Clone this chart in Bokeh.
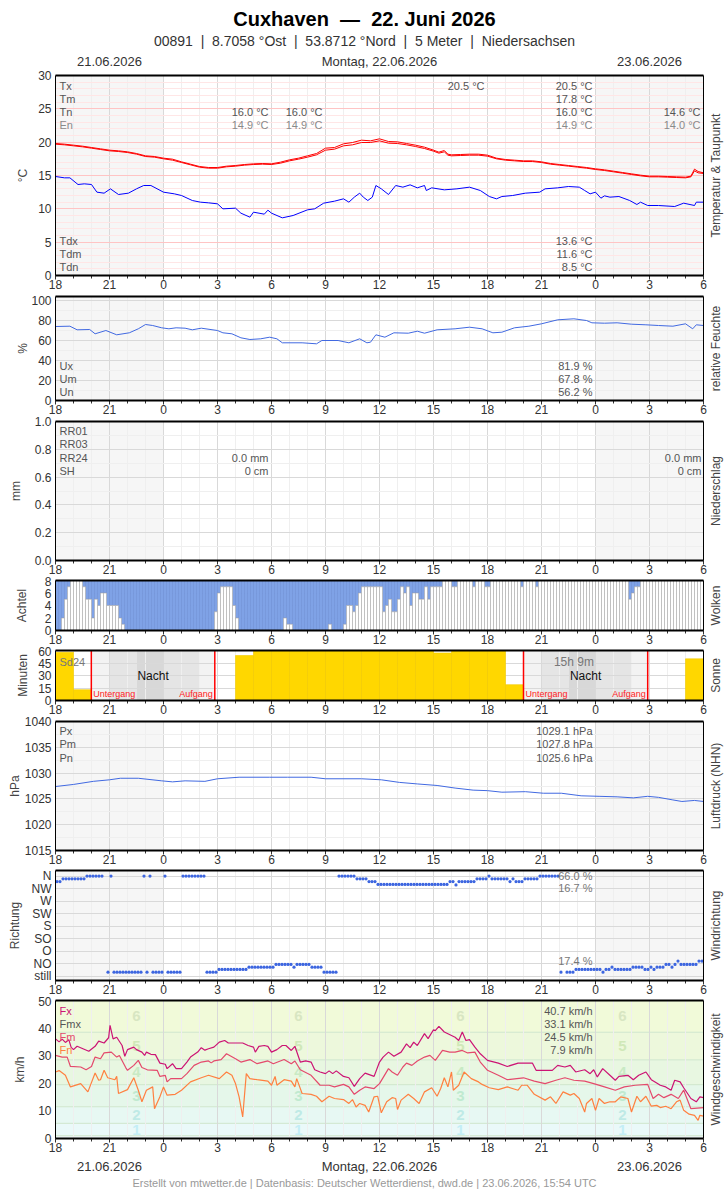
import numpy as np
from bokeh.plotting import figure
from bokeh.layouts import column
from bokeh.models import FixedTicker, Range1d, PrintfTickFormatter
from bokeh.embed import file_html
from bokeh.resources import INLINE
from bokeh.core.properties import value

# ------------------------------------------------------------------ DATA
# x axis: hours since 21.06.2026 18:00 UTC (0 .. 36)
hour_ticks = list(range(0, 37, 3))
hour_labels = ["18", "21", "0", "3", "6", "9", "12", "15", "18", "21", "0", "3", "6"]

NB2 = "\u00a0\u00a0"
title_text = "Cuxhaven" + NB2 + "\u2014" + NB2 + "22. Juni 2026"
subtitle_text = NB2.join(["00891", "|", "8.7058 \u00b0Ost", "|", "53.8712 \u00b0Nord", "|",
                          "5 Meter", "|", "Niedersachsen"])
date_labels = ["21.06.2026", "Montag, 22.06.2026", "23.06.2026"]
footer_text = "Erstellt von mtwetter.de | Datenbasis: Deutscher Wetterdienst, dwd.de | 23.06.2026, 15:54 UTC"

# temperature (two red traces)
temp_hours = [0, 0.5, 1, 1.5, 2, 2.5, 3, 3.5, 4, 4.5, 5, 5.5, 6, 6.5, 7, 7.5, 8, 8.5, 9, 9.5,
              10, 10.5, 11, 11.5, 12, 12.5, 13, 13.5, 14, 14.5, 15, 15.5, 16, 16.5, 17, 17.5,
              18, 18.5, 19, 19.5, 20, 20.5, 21, 21.3, 21.6, 21.8, 22, 22.5, 23, 23.5, 24, 24.5,
              25, 25.5, 26, 26.5, 27, 27.5, 28, 28.5, 29, 29.5, 30, 30.5, 31, 31.5, 32, 32.5,
              33, 33.5, 34, 34.5, 35, 35.3, 35.5, 35.7, 36]
temp_hi = [19.8, 19.7, 19.55, 19.4, 19.2, 19.0, 18.8, 18.7, 18.55, 18.3, 17.95, 17.85, 17.6, 17.45,
           17.05, 16.7, 16.35, 16.2, 16.2, 16.4, 16.5, 16.65, 16.75, 16.8, 16.75, 17.0, 17.35, 17.6,
           17.95, 18.3, 19.1, 19.2, 19.75, 19.95, 20.3, 20.2, 20.5, 20.1, 20.05, 19.8, 19.55, 19.25,
           18.8, 18.5, 18.75, 18.2, 18.1, 18.15, 18.2, 18.2, 18.05, 17.6, 17.4, 17.3, 17.2, 17.2,
           17.05, 16.8, 16.65, 16.5, 16.35, 16.2, 16.0, 15.85, 15.65, 15.45, 15.25, 15.05, 14.9,
           14.9, 14.85, 14.8, 14.75, 14.9, 15.95, 15.6, 15.4]
temp_lo = [19.7, 19.6, 19.45, 19.3, 19.1, 18.9, 18.7, 18.6, 18.45, 18.2, 17.85, 17.75, 17.5, 17.3,
           16.95, 16.6, 16.25, 16.1, 16.1, 16.3, 16.4, 16.55, 16.65, 16.7, 16.65, 16.85, 17.2, 17.45,
           17.75, 18.1, 18.8, 18.95, 19.45, 19.6, 19.95, 19.95, 20.2, 19.85, 19.8, 19.6, 19.35, 19.05,
           18.65, 18.35, 18.55, 18.05, 17.95, 18.0, 18.05, 18.05, 17.9, 17.5, 17.3, 17.2, 17.1, 17.1,
           16.95, 16.7, 16.55, 16.4, 16.25, 16.1, 15.9, 15.75, 15.55, 15.35, 15.15, 14.95, 14.8,
           14.8, 14.75, 14.7, 14.65, 14.8, 15.7, 15.4, 15.3]

# dew point (blue)
dew_hours = [0, 0.5, 0.8, 1.25, 1.6, 2.0, 2.3, 2.7, 3.05, 3.5, 4.05, 4.5, 4.9, 5.3, 6.0, 6.6, 7.0,
             7.6, 8.05, 8.5, 9.0, 9.3, 10.0, 10.3, 10.8, 11.0, 11.6, 11.8, 12.0, 12.6, 13.2, 14.0,
             14.4, 14.9, 15.5, 16.0, 16.3, 16.6, 16.9, 17.1, 17.35, 17.6, 17.8, 18.1, 18.5, 18.9,
             19.3, 19.7, 20.1, 20.5, 20.6, 20.9, 21.6, 22.3, 23.0, 23.6, 24.1, 24.5, 24.8, 25.4,
             26.1, 26.9, 27.2, 27.9, 28.5, 29.1, 29.4, 29.7, 30.0, 30.3, 30.5, 30.8, 31.3, 31.9,
             32.3, 32.5, 32.9, 33.5, 34.4, 34.9, 35.5, 35.6, 36.0]
dew_vals = [14.85, 14.65, 14.65, 13.65, 13.75, 13.65, 12.5, 12.35, 13.0, 12.15, 12.35, 13.0, 13.5,
            13.5, 12.5, 12.25, 12.0, 11.25, 11.0, 10.9, 10.75, 10.0, 10.1, 9.35, 8.75, 9.5, 9.2,
            9.8, 9.35, 8.65, 9.0, 9.85, 10.0, 10.85, 11.15, 11.5, 11.0, 11.75, 12.35, 11.75, 11.25,
            11.75, 13.5, 13.0, 12.15, 13.5, 13.25, 13.6, 13.15, 13.5, 12.75, 13.15, 12.85, 13.0,
            13.25, 12.75, 11.85, 11.5, 11.85, 12.0, 12.35, 12.5, 13.0, 13.15, 13.35, 13.25, 12.75,
            12.25, 12.5, 11.6, 11.95, 11.75, 11.85, 11.25, 10.65, 11.0, 10.5, 10.5, 10.35, 10.85,
            10.5, 11.0, 11.0]

# relative humidity
hum_hours = [0, 0.8, 1.2, 1.9, 2.2, 2.8, 3.4, 4.1, 4.6, 5.0, 5.4, 5.9, 6.3, 6.7, 7.2, 7.6, 8.1, 9.0,
             9.3, 9.8, 10.3, 10.8, 11.4, 11.9, 12.3, 12.6, 13.7, 14.5, 14.8, 15.7, 16.3, 16.9, 17.3,
             17.5, 17.8, 18.3, 18.8, 19.6, 20.1, 20.5, 21.2, 22.2, 23.0, 23.7, 24.3, 24.8, 25.5,
             26.3, 27.0, 27.9, 28.8, 29.5, 29.8, 30.5, 31.2, 32.0, 32.8, 33.5, 34.3, 35.0, 35.4,
             35.6, 36.0]
hum_vals = [74, 74.3, 70.7, 71, 66.7, 70, 65.7, 67.7, 71.7, 76, 75, 72.7, 71.7, 72.7, 72.3, 70.7,
            72.3, 70, 67.7, 66.7, 62.7, 61, 61.7, 63.3, 61.7, 57.7, 57.7, 56.7, 60, 60, 57.7, 61.7,
            57.7, 58.3, 65.7, 63.3, 67.7, 67.3, 69.3, 67.3, 70.7, 71.7, 73.3, 71.7, 67.7, 68.3, 72.7,
            74.3, 76.7, 80.7, 81.7, 80, 77.7, 77.3, 77.7, 76.3, 75.7, 75, 74.3, 76.7, 71.7, 75.7, 75]

# cloud cover in octas, 10-minute steps (216 values)
cloud_octas = [
    0, 0, 2, 5, 7, 8, 8, 8, 8, 7, 5, 5,
    2, 5, 4, 6, 6, 4, 4, 4, 4, 2, 1, 0,
    0, 0, 0, 0, 0, 0, 0, 0, 0, 0, 0, 0,
    0, 0, 0, 0, 0, 0, 0, 0, 0, 0, 0, 0,
    0, 0, 0, 0, 0, 3, 6, 7, 7, 7, 7, 4,
    2, 0, 0, 0, 0, 0, 0, 0, 0, 0, 0, 0,
    0, 0, 0, 0, 2, 1, 1, 0, 0, 0, 0, 0,
    0, 0, 0, 0, 0, 0, 0, 1, 0, 0, 0, 0,
    1, 4, 4, 3, 4, 6, 7, 7, 7, 7, 7, 7,
    7, 3, 4, 5, 3, 3, 5, 7, 6, 7, 4, 6,
    6, 5, 5, 7, 5, 7, 7, 7, 7, 8, 8, 8,
    7, 7, 8, 8, 8, 8, 8, 7, 8, 8, 8, 7,
    7, 8, 8, 8, 8, 8, 8, 8, 8, 8, 8, 7,
    8, 8, 8, 8, 7, 8, 8, 8, 8, 8, 8, 8,
    8, 8, 8, 8, 8, 8, 8, 8, 8, 8, 8, 8,
    8, 8, 8, 8, 8, 8, 8, 8, 8, 8, 8, 5,
    6, 7, 7, 8, 8, 8, 8, 8, 8, 8, 8, 8,
    8, 8, 8, 8, 8, 8, 8, 8, 8, 8, 8, 8,
]

# sunshine minutes per hour (36 values)
sun_minutes = [58, 13, 0, 0, 0, 0, 0, 0, 0, 0, 54, 60, 60, 60, 60, 60, 60, 60, 60, 60, 60, 57,
               60, 60, 60, 19, 0, 0, 0, 0, 0, 0, 0, 0, 0, 50]
# sunset / twilight boundaries / sunrise (hours) for the two nights
night1_bounds = [1.99, 3.0, 4.5, 6.0, 8.0, 8.85]
night2_bounds = [26.0, 27.0, 28.5, 30.0, 32.0, 32.9]

# pressure
press_hours = [0, 1.0, 2.1, 3.0, 3.6, 4.6, 5.9, 6.5, 7.2, 8.3, 9.0, 10.2, 11.9, 12.9, 14.2, 15.0,
               17.0, 18.1, 19.1, 20.1, 21.2, 22.2, 23.2, 24.0, 24.8, 26.1, 27.1, 28.1, 29.2, 30.2,
               31.2, 32.1, 32.9, 33.5, 34.3, 34.8, 35.5, 36.0]
press_vals = [1027.4, 1027.8, 1028.4, 1028.7, 1029.0, 1029.0, 1028.5, 1028.3, 1028.5, 1028.4,
              1028.9, 1029.2, 1029.2, 1029.2, 1029.2, 1028.9, 1028.9, 1028.7, 1028.2, 1027.9,
              1027.6, 1027.1, 1026.7, 1026.6, 1026.3, 1026.4, 1026.1, 1026.1, 1025.6, 1025.5,
              1025.4, 1025.2, 1025.5, 1025.3, 1024.8, 1024.5, 1024.7, 1024.5]

# wind direction in degrees, 10-minute steps (None = no value); 0 = still
wind_dir = [
    340, 340, 350, 350, 350, 350, 350, 350, 350, 350, 360, 360,
    360, 360, 360, 360, None, 14, 360, 14, 14, 14, 14, 14,
    14, 14, 14, 14, 14, 360, 14, 360, 14, 14, 14, 14,
    360, 14, 14, 14, 14, 14, 360, 360, 360, 360, 360, 360,
    360, 360, 14, 14, 14, 14, 24, 24, 24, 24, 24, 24,
    24, 24, 24, 24, 32, 32, 32, 32, 32, 32, 32, 32,
    32, 42, 42, 42, 42, 42, 42, 32, 42, 42, 42, 42,
    42, 32, 32, 32, 32, 14, 14, 14, 14, 14, 360, 360,
    360, 360, 360, 360, 350, 350, 350, 350, 340, 340, 340, 330,
    330, 330, 330, 330, 330, 330, 330, 330, 330, 330, 330, 330,
    330, 330, 330, 330, 330, 330, 330, 330, 330, 330, 330, 340,
    340, 328, 340, 340, 340, 340, 340, 340, 350, 350, 350, 350,
    360, 350, 350, 350, 350, 350, 350, 340, 350, 340, 340, 340,
    350, 350, 350, 350, 350, 360, 360, 360, 360, 360, 360, 360,
    14, None, 14, 14, 14, 24, 24, 24, 24, 24, 24, 24,
    24, 24, 14, 24, 24, 32, 24, 24, 24, 24, 24, 24,
    32, 32, 32, 32, 24, 24, 32, 24, 32, 32, 32, 42,
    42, 32, 42, 54, 42, 42, 42, 42, 42, 42, 54, 54,
]
dir_ticks = [0, 45, 90, 135, 180, 225, 270, 315, 360]
dir_labels = ["still", "NO", "O", "SO", "S", "SW", "W", "NW", "N"]

# wind speed km/h
fx_hours = [0, 0.2, 0.37, 0.55, 0.74, 0.87, 1.0, 1.2, 1.85, 2.2, 2.4, 2.7, 2.95, 3.03, 3.2, 3.4,
            3.7, 3.85, 4.0, 4.35, 4.5, 4.8, 4.95, 5.05, 5.3, 5.55, 5.8, 6.1, 6.2, 6.5, 6.7, 7.0,
            7.3, 7.5, 7.9, 8.1, 8.3, 8.5, 8.8, 9.1, 9.4, 9.6, 10.0, 10.4, 10.7, 11.0, 11.1, 11.3,
            11.6, 11.8, 12.0, 12.3, 12.6, 12.8, 13.1, 13.3, 13.6, 13.9, 14.2, 14.4, 14.7, 15.0,
            15.2, 15.4, 15.6, 16.0, 16.3, 16.6, 16.9, 17.2, 17.7, 18.0, 18.2, 18.5, 18.8, 19.2,
            19.5, 19.7, 19.9, 20.1, 20.5, 20.7, 21.0, 21.1, 21.3, 21.6, 22.2, 22.4, 22.6, 22.8,
            23.0, 23.3, 23.6, 24.0, 24.6, 25.1, 25.7, 26.5, 26.7, 27.6, 27.9, 28.3, 28.6, 28.9,
            29.4, 29.7, 29.9, 30.1, 30.4, 30.8, 31.1, 31.3, 31.8, 32.1, 32.4, 32.8, 33.1, 33.4,
            33.6, 33.9, 34.2, 34.4, 34.7, 34.9, 35.3, 35.6, 35.8, 36.0]
fx_vals = [36.1, 35.0, 36.0, 34.8, 35.8, 33.0, 32.2, 33.4, 31.6, 33.4, 35.3, 34.6, 36.5, 41.0,
           36.1, 36.7, 33.7, 29.8, 32.2, 33.1, 32.2, 31.3, 30.1, 31.3, 30.5, 30.4, 27.3, 26.9,
           25.3, 27.1, 25.3, 25.3, 27.7, 29.5, 31.3, 32.9, 32.0, 32.5, 33.1, 34.9, 35.5, 34.6,
           34.6, 34.6, 33.7, 33.1, 31.3, 33.4, 33.7, 33.4, 31.3, 32.2, 33.7, 33.7, 31.9, 33.4,
           27.7, 28.1, 27.7, 24.9, 24.1, 23.5, 24.5, 23.5, 24.5, 22.5, 22.0, 18.9, 21.7, 23.7,
           22.5, 27.7, 29.5, 31.3, 29.8, 31.3, 34.3, 32.9, 34.9, 33.7, 38.0, 36.2, 39.4, 39.1,
           40.6, 38.6, 36.7, 35.5, 38.6, 35.5, 35.8, 33.1, 30.7, 28.3, 27.3, 26.1, 27.3, 27.3,
           24.7, 24.7, 26.5, 25.9, 26.5, 24.1, 24.9, 23.5, 24.9, 22.3, 25.3, 22.9, 21.1, 22.5,
           22.9, 21.3, 22.9, 24.1, 21.3, 20.1, 19.3, 18.7, 17.5, 21.1, 20.5, 18.4, 14.5, 13.3,
           15.1, 14.8]
fm_hours = [0, 0.37, 0.65, 0.83, 1.4, 1.7, 2.0, 2.2, 2.5, 2.7, 3.1, 3.4, 3.55, 3.9, 4.0, 4.35,
            4.6, 4.8, 5.1, 5.65, 5.8, 6.1, 6.2, 6.4, 7.0, 7.3, 7.7, 8.1, 8.5, 8.65, 8.8, 9.2, 9.5,
            10.0, 10.3, 10.8, 11.2, 11.8, 12.1, 12.7, 13.1, 13.3, 13.6, 14.2, 14.7, 15.2, 15.5,
            16.0, 16.3, 16.6, 16.9, 17.2, 17.7, 18.0, 18.5, 18.7, 19.0, 19.3, 19.5, 19.8, 20.1,
            20.5, 20.8, 21.1, 21.5, 21.9, 22.2, 22.6, 22.9, 23.3, 23.6, 24.0, 24.6, 25.1, 26.0,
            26.6, 27.2, 27.8, 28.3, 28.8, 29.4, 29.9, 30.5, 31.1, 31.6, 32.2, 32.9, 33.2, 33.5,
            33.8, 34.2, 34.6, 34.9, 35.3, 36.0]
fm_vals = [30.1, 29.5, 29.5, 26.1, 25.9, 24.9, 26.1, 29.5, 28.9, 31.0, 31.3, 29.5, 30.1, 25.7,
           24.7, 26.5, 28.3, 25.7, 24.9, 24.7, 22.5, 22.9, 20.5, 21.7, 21.7, 23.5, 26.5, 27.7,
           28.1, 27.4, 28.1, 28.6, 30.7, 28.9, 27.7, 28.6, 27.1, 28.1, 27.1, 28.6, 27.1, 28.1,
           24.9, 22.9, 19.3, 19.3, 18.7, 19.6, 18.7, 16.0, 17.5, 18.7, 18.1, 19.9, 25.3, 24.1,
           22.9, 25.9, 27.3, 26.5, 28.1, 29.5, 30.1, 28.3, 31.9, 31.3, 31.3, 31.9, 31.0, 31.3,
           27.7, 24.7, 22.9, 21.3, 22.0, 20.8, 19.9, 21.1, 22.0, 21.1, 20.8, 19.9, 18.7, 17.5,
           18.7, 19.3, 19.6, 14.5, 16.0, 14.8, 16.0, 14.5, 17.5, 10.8, 11.2]
fn_hours = [0, 0.2, 0.55, 0.83, 1.4, 1.8, 2.2, 2.4, 2.5, 2.7, 2.9, 3.3, 3.4, 3.5, 4.0, 4.35, 4.6,
            4.8, 5.05, 5.4, 5.5, 5.8, 6.0, 6.2, 6.65, 7.0, 7.5, 8.1, 8.5, 9.1, 9.5, 9.8, 10.0,
            10.2, 10.4, 10.6, 10.8, 11.2, 11.8, 12.0, 12.2, 12.3, 12.7, 13.1, 13.3, 13.4, 13.7,
            14.2, 14.5, 14.8, 15.2, 15.5, 16.0, 16.3, 16.5, 16.7, 16.9, 17.2, 17.4, 17.7, 17.9,
            18.1, 18.4, 18.7, 18.9, 19.0, 19.2, 19.6, 19.9, 20.2, 20.5, 20.9, 21.2, 21.4, 21.6,
            21.8, 22.0, 22.1, 22.4, 22.7, 23.1, 23.5, 23.7, 24.1, 24.6, 25.1, 25.7, 25.9, 26.2,
            26.6, 27.2, 27.5, 27.8, 28.2, 28.6, 28.8, 29.1, 29.4, 29.5, 29.8, 30.0, 30.2, 30.5,
            30.8, 31.1, 31.4, 31.8, 32.0, 32.3, 32.5, 32.8, 33.1, 33.4, 33.6, 33.9, 34.2, 34.5,
            34.7, 34.9, 35.2, 35.5, 35.7, 35.8, 36.0]
fn_vals = [24.1, 24.6, 22.9, 18.7, 19.9, 16.9, 23.7, 21.1, 21.3, 24.7, 22.0, 21.3, 22.5, 16.3,
           17.7, 22.0, 17.5, 13.3, 17.5, 18.7, 10.8, 15.1, 18.7, 15.7, 16.0, 17.5, 20.5, 22.0,
           22.9, 21.7, 24.1, 22.9, 19.9, 15.1, 7.8, 23.5, 21.7, 21.3, 20.8, 19.3, 22.5, 19.3,
           21.3, 20.8, 18.7, 21.7, 16.3, 16.0, 15.3, 13.3, 15.3, 14.5, 14.1, 12.7, 14.1, 11.4,
           12.7, 12.0, 9.6, 15.1, 15.3, 9.3, 13.3, 14.8, 14.5, 10.5, 13.9, 16.0, 14.5, 12.7,
           16.9, 18.4, 15.3, 18.1, 22.0, 18.7, 24.1, 17.5, 19.3, 24.1, 21.7, 20.5, 19.6, 18.4,
           17.7, 18.7, 17.5, 19.3, 19.3, 16.0, 13.9, 15.1, 12.7, 16.9, 15.7, 16.3, 14.5, 9.6,
           12.7, 14.5, 10.2, 14.5, 12.7, 13.3, 13.3, 15.1, 14.5, 9.6, 15.3, 13.3, 15.3, 11.7,
           12.0, 11.2, 11.7, 10.8, 13.3, 13.9, 10.2, 8.8, 8.4, 6.6, 8.4, 8.1]

# Beaufort bands (km/h)
bft_bounds = [0, 1, 5.5, 11.5, 19.5, 28.5, 38.5, 50]
bft_colors = ["#eef6f8", "#eaf9f9", "#e7f8f3", "#e5f7ea", "#e8f7e1", "#edf8dc", "#f1fad9"]
bft_numbers = ["1", "2", "3", "4", "5", "6"]
bft_num_y = [3.0, 8.5, 15.5, 24.0, 33.5, 44.5]
bft_num_colors = ["#c4eef6", "#bfeae6", "#c0ead0", "#c8eac4", "#d0e8b8", "#d8e6c2"]
bft_num_x = [4.5, 13.5, 22.5, 31.5]

# ------------------------------------------------------------------ LAYOUT / STYLE
W, LB, BOT = 728, 55, 16
HPX = 18.0                    # pixels per hour
XEND = 36.0                   # last hour shown
XMAX = XEND + 25 / HPX        # canvas continues 25 px to the right for the side title
FONT = "Liberation Sans"
GRID_MAJ, GRID_MIN = "#d9d9d9", "#efefef"
STAT_C, STAT_C2 = "#555555", "#8a8a8a"


def base(height, top, y0, y1, yticks, yminor, ylabel, standoff,
         hmaj=GRID_MAJ, hmin=GRID_MIN, shade=True):
    p = figure(width=W, height=height, x_range=Range1d(0, XMAX), y_range=Range1d(y0, y1),
               output_backend="svg", toolbar_location=None, frame_align=False,
               min_border_left=LB, min_border_right=0, min_border_top=top, min_border_bottom=BOT)
    p.outline_line_color = None
    xa = p.xaxis[0]
    xa.ticker = FixedTicker(ticks=hour_ticks, minor_ticks=list(range(37)))
    xa.major_label_overrides = dict(zip(hour_ticks, hour_labels))
    xa.major_tick_out, xa.major_tick_in = 4, 0
    xa.minor_tick_out, xa.minor_tick_in = 3, 0
    xa.major_label_standoff = 0
    xa.major_label_text_font = FONT
    xa.major_label_text_font_size = "12px"
    xa.major_label_text_color = "#333333"
    xa.axis_line_color = None
    xa.major_tick_line_color = "#333333"
    xa.minor_tick_line_color = "#333333"
    ya = p.yaxis[0]
    ya.ticker = FixedTicker(ticks=yticks, minor_ticks=yminor)
    ya.major_tick_out, ya.major_tick_in = 0, 0
    ya.minor_tick_out, ya.minor_tick_in = 0, 0
    ya.major_label_standoff = 4
    ya.major_label_text_font = FONT
    ya.major_label_text_font_size = "12px"
    ya.major_label_text_color = "#333333"
    ya.axis_line_color = "black"
    ya.axis_label = ylabel
    ya.axis_label_standoff = standoff
    ya.axis_label_text_font = FONT
    ya.axis_label_text_font_size = "12px"
    ya.axis_label_text_font_style = "normal"
    ya.axis_label_text_color = "#444444"
    p.xgrid.grid_line_color = GRID_MAJ
    p.xgrid.minor_grid_line_color = GRID_MIN
    p.ygrid.grid_line_color = hmaj
    p.ygrid.minor_grid_line_color = hmin
    if shade:
        p.quad(left=[0, 30], right=[6, 36], bottom=y0, top=y1, fill_color="#f6f6f6",
               line_color=None, level="image")
    return p, ya


def finish(p, y0, y1, rlabel):
    # white strip right of the data area, frame border, and the rotated side title
    p.quad(left=XEND, right=XMAX, bottom=y0, top=y1, fill_color="white", line_color=None,
           level="overlay")
    p.segment(x0=[0, 0], x1=[XEND, XEND], y0=[y0, y1], y1=[y0, y1], line_color="black",
              line_width=2, level="overlay")
    p.segment(x0=[XEND], x1=[XEND], y0=[y0], y1=[y1], line_color="black", line_width=1,
              level="overlay")
    p.text(x=[XEND + 12 / HPX], y=[(y0 + y1) / 2], text=[rlabel], angle=np.pi / 2,
           text_align="center", text_baseline="middle", text_font=value(FONT),
           text_font_size="12px", text_color="#444444", level="overlay")


def stat(p, fh, y0, y1, xs_px, offs_px, texts, align="left", color=STAT_C, size="11px"):
    xs = [x / HPX for x in xs_px]
    ys = [y1 - o * (y1 - y0) / fh for o in offs_px]
    p.text(x=xs, y=ys, text=texts, text_align=align, text_baseline="middle",
           text_font=value(FONT), text_font_size=size, text_color=color)


# ---- header
hdr = figure(width=W, height=68, x_range=Range1d(0, 36), y_range=Range1d(68, 0),
             output_backend="svg", toolbar_location=None, frame_align=False,
             min_border_left=LB, min_border_right=25,
             min_border_top=0, min_border_bottom=0, x_axis_location=None, y_axis_location=None)
hdr.outline_line_color = None
for g in hdr.grid:
    g.visible = False
hdr.text(x=[309 / HPX], y=[18], text=[title_text], text_align="center", text_baseline="middle",
         text_font=value(FONT), text_font_size="20px", text_font_style="bold", text_color="black")
hdr.text(x=[309 / HPX], y=[40], text=[subtitle_text], text_align="center", text_baseline="middle",
         text_font=value(FONT), text_font_size="14px", text_color="#333333")
hdr.text(x=[3, 18, 33], y=[60.5, 60.5, 60.5], text=date_labels, text_align="center",
         text_baseline="middle", text_font=value(FONT), text_font_size="13px", text_color="#333333")

# ---- temperature
T_FH = 200
pt, _ = base(223, 7, 0, 30, list(range(0, 31, 5)), list(range(0, 31)), "\u00b0C", 5,
             hmaj="#ffc4c4", hmin="#ffe6e6")
pt.line(temp_hours, temp_hi, line_color="#ff0000", line_width=1)
pt.line(temp_hours, temp_lo, line_color="#ff0000", line_width=1)
pt.line(dew_hours, dew_vals, line_color="#0000ff", line_width=1)
stat(pt, T_FH, 0, 30, [4] * 3, [10, 23, 36], ["Tx", "Tm", "Tn"])
stat(pt, T_FH, 0, 30, [4], [49], ["En"], color=STAT_C2)
stat(pt, T_FH, 0, 30, [4] * 3, [165, 178, 191], ["Tdx", "Tdm", "Tdn"])
stat(pt, T_FH, 0, 30, [213, 267], [36, 36], ["16.0 \u00b0C", "16.0 \u00b0C"], align="right")
stat(pt, T_FH, 0, 30, [213, 267], [49, 49], ["14.9 \u00b0C", "14.9 \u00b0C"], align="right", color=STAT_C2)
stat(pt, T_FH, 0, 30, [429], [10], ["20.5 \u00b0C"], align="right")
stat(pt, T_FH, 0, 30, [537] * 3, [10, 23, 36], ["20.5 \u00b0C", "17.8 \u00b0C", "16.0 \u00b0C"], align="right")
stat(pt, T_FH, 0, 30, [537], [49], ["14.9 \u00b0C"], align="right", color=STAT_C2)
stat(pt, T_FH, 0, 30, [645], [36], ["14.6 \u00b0C"], align="right")
stat(pt, T_FH, 0, 30, [645], [49], ["14.0 \u00b0C"], align="right", color=STAT_C2)
stat(pt, T_FH, 0, 30, [537] * 3, [165, 178, 191], ["13.6 \u00b0C", "11.6 \u00b0C", "8.5 \u00b0C"], align="right")
finish(pt, 0, 30, "Temperatur & Taupunkt")

# ---- humidity
H_FH = 104
ph, _ = base(125, 5, 0, 104, list(range(0, 101, 20)), list(range(0, 101, 10)), "%", -2)
ph.line(hum_hours, hum_vals, line_color="#4169e1", line_width=1)
stat(ph, H_FH, 0, 104, [4] * 3, [69, 82, 95], ["Ux", "Um", "Un"])
stat(ph, H_FH, 0, 104, [537] * 3, [69, 82, 95], ["81.9 %", "67.8 %", "56.2 %"], align="right")
finish(ph, 0, 104, "relative Feuchte")

# ---- precipitation
R_FH = 139
pr, pr_y = base(160, 5, 0, 1, [0, 0.2, 0.4, 0.6, 0.8, 1.0], [0.1 * i for i in range(11)], "mm", 9)
pr_y.formatter = PrintfTickFormatter(format="%.1f")
stat(pr, R_FH, 0, 1, [4] * 4, [9, 22, 36, 49], ["RR01", "RR03", "RR24", "SH"])
stat(pr, R_FH, 0, 1, [213, 213], [36, 49], ["0.0 mm", "0 cm"], align="right")
stat(pr, R_FH, 0, 1, [646, 646], [36, 49], ["0.0 mm", "0 cm"], align="right")
finish(pr, 0, 1, "Niederschlag")

# ---- clouds
pc, _ = base(70, 4, 0, 8, [0, 2, 4, 6, 8], [], "Achtel", 13, shade=False)
cx = [(i + 0.5) / 6 for i in range(len(cloud_octas))]
pc.vbar(x=cx, width=1 / 6, bottom=cloud_octas, top=8, fill_color="#7fa2e6",
        line_color="#6f90d6", line_width=0.6)
pc.vbar(x=cx, width=1 / 6, bottom=0, top=cloud_octas, fill_color="white",
        line_color="#a8a8a8", line_width=0.6)
finish(pc, 0, 8, "Wolken")

# ---- sunshine
S_FH = 50
ps, _ = base(70, 4, 0, 60, [0, 15, 30, 45, 60], [], "Minuten", 5, shade=False)
tw_colors = ["#f3f3f3", "#e5e5e5", "#d8d8d8", "#e5e5e5", "#f3f3f3"]
for nb in (night1_bounds, night2_bounds):
    ps.quad(left=nb[:-1], right=nb[1:], bottom=0, top=60, fill_color=tw_colors,
            line_color=None, level="image")
ps.vbar(x=[h + 0.5 for h in range(36)], width=1, bottom=0, top=sun_minutes,
        fill_color="#ffd700", line_color="#f2c900", line_width=0.6)
ps.segment(x0=[night1_bounds[0], night1_bounds[-1], night2_bounds[0], night2_bounds[-1]],
           x1=[night1_bounds[0], night1_bounds[-1], night2_bounds[0], night2_bounds[-1]],
           y0=0, y1=60, line_color="#ff0000", line_width=1.5)
stat(ps, S_FH, 0, 60, [4], [11], ["Sd24"], color="#777777")
stat(ps, S_FH, 0, 60, [28.8 * HPX], [11], ["15h 9m"], align="center", color="#777777", size="12px")
stat(ps, S_FH, 0, 60, [(night1_bounds[0] + night1_bounds[-1]) / 2 * HPX,
                       (night2_bounds[0] + night2_bounds[-1]) / 2 * HPX], [25, 25],
     ["Nacht", "Nacht"], align="center", color="#111111", size="12px")
stat(ps, S_FH, 0, 60, [night1_bounds[0] * HPX + 2, night2_bounds[0] * HPX + 2], [43, 43],
     ["Untergang", "Untergang"], color="#ff2222", size="9px")
stat(ps, S_FH, 0, 60, [night1_bounds[-1] * HPX - 2, night2_bounds[-1] * HPX - 2], [43, 43],
     ["Aufgang", "Aufgang"], align="right", color="#ff2222", size="9px")
finish(ps, 0, 60, "Sonne")

# ---- pressure
P_FH = 129
pp, _ = base(150, 5, 1015, 1040, list(range(1015, 1041, 5)), [1015 + 2.5 * i for i in range(11)],
             "hPa", 0)
pp.line(press_hours, press_vals, line_color="#4169e1", line_width=1)
stat(pp, P_FH, 1015, 1040, [4] * 3, [9, 22, 36], ["Px", "Pm", "Pn"])
stat(pp, P_FH, 1015, 1040, [537] * 3, [9, 22, 36], ["1029.1 hPa", "1027.8 hPa", "1025.6 hPa"],
     align="right")
finish(pp, 1015, 1040, "Luftdruck (NHN)")

# ---- wind direction
D_FH = 110
pd_, pd_y = base(130, 4, -16, 380, dir_ticks, [], "Richtung", 7)
pd_y.major_label_overrides = dict(zip(dir_ticks, dir_labels))
wd_h = [(i + 0.5) / 6 for i, v in enumerate(wind_dir) if v is not None]
wd_v = [v for v in wind_dir if v is not None]
pd_.scatter(wd_h, wd_v, marker="circle", size=3.2, fill_color="#3d66e0", line_color=None)
stat(pd_, D_FH, -16, 380, [537] * 3, [5.5, 17.5, 90], ["66.0 %", "16.7 %", "17.4 %"], align="right",
     color="#777777")
finish(pd_, -16, 380, "Windrichtung")

# ---- wind speed
F_FH = 138
pf, _ = base(158, 4, 0, 50, list(range(0, 51, 10)), [], "km/h", 8, shade=False)
pf.ygrid.grid_line_color = None
pf.quad(left=0, right=36, bottom=bft_bounds[:-1], top=bft_bounds[1:], fill_color=bft_colors,
        line_color=None, level="image")
pf.segment(x0=0, x1=36, y0=bft_bounds[1:-1], y1=bft_bounds[1:-1], line_color="#cfe6cc",
           line_width=1, level="image")
bx = [x for x in bft_num_x for _ in bft_numbers]
by = [y for _ in bft_num_x for y in bft_num_y]
bt = [t for _ in bft_num_x for t in bft_numbers]
bc = [c for _ in bft_num_x for c in bft_num_colors]
pf.text(x=bx, y=by, text=bt, text_color=bc, text_align="center", text_baseline="middle",
        text_font=value(FONT), text_font_size="15px", text_font_style="bold", level="image")
pf.line(fn_hours, fn_vals, line_color="#ff8040", line_width=1.2)
pf.line(fm_hours, fm_vals, line_color="#e44a6c", line_width=1.2)
pf.line(fx_hours, fx_vals, line_color="#cc1474", line_width=1.2)
stat(pf, F_FH, 0, 50, [4], [10], ["Fx"], color="#cc1474")
stat(pf, F_FH, 0, 50, [4], [23], ["Fmx"], color="#555555")
stat(pf, F_FH, 0, 50, [4], [36], ["Fm"], color="#e44a6c")
stat(pf, F_FH, 0, 50, [4], [49], ["Fn"], color="#ff8040")
stat(pf, F_FH, 0, 50, [537] * 4, [10, 23, 36, 49],
     ["40.7 km/h", "33.1 km/h", "24.5 km/h", "7.9 km/h"], align="right")
finish(pf, 0, 50, "Windgeschwindigkeit")

# ---- footer
ftr = figure(width=W, height=36, x_range=Range1d(0, 36), y_range=Range1d(36, 0),
             output_backend="svg", toolbar_location=None, frame_align=False,
             min_border_left=LB, min_border_right=25,
             min_border_top=0, min_border_bottom=0, x_axis_location=None, y_axis_location=None)
ftr.outline_line_color = None
for g in ftr.grid:
    g.visible = False
ftr.text(x=[3, 18, 33], y=[12, 12, 12], text=date_labels, text_align="center",
         text_baseline="middle", text_font=value(FONT), text_font_size="13px", text_color="#333333")
ftr.text(x=[309 / HPX], y=[28], text=[footer_text], text_align="center", text_baseline="middle",
         text_font=value(FONT), text_font_size="11px", text_color="#999999")

layout = column(hdr, pt, ph, pr, pc, ps, pp, pd_, pf, ftr, spacing=0)
open("out.html", "w").write(file_html(layout, INLINE))
